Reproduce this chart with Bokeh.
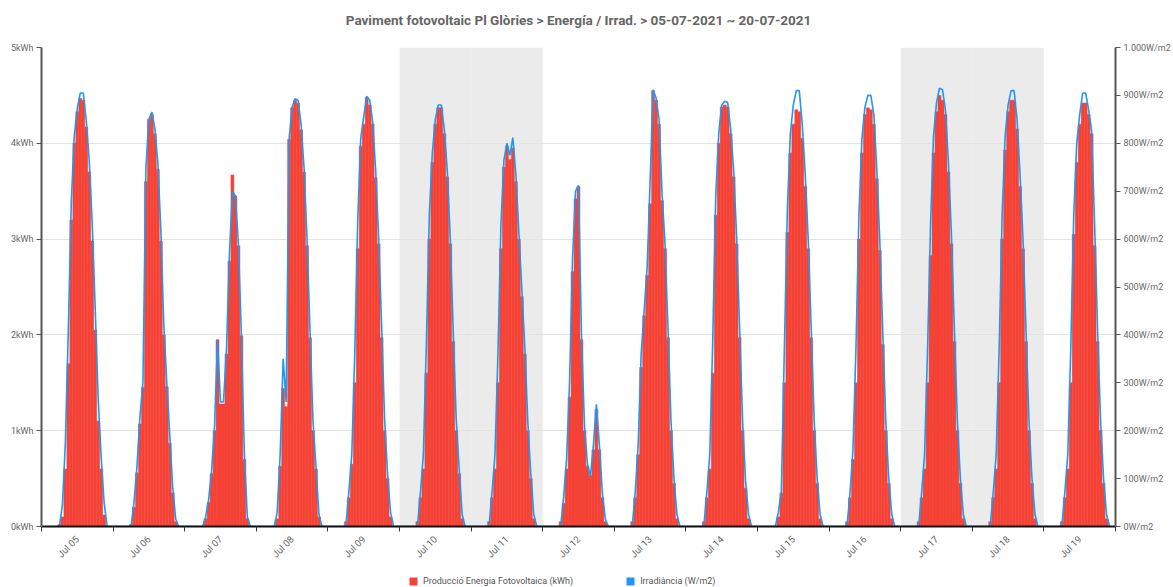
import math
from bokeh.plotting import figure
from bokeh.layouts import column
from bokeh.models import (Range1d, LinearAxis, FixedTicker, BoxAnnotation, Legend,
                          LegendItem, ColumnDataSource, Title)
from bokeh.embed import file_html
from bokeh.resources import INLINE

TITLE = "Paviment fotovoltaic Pl Glòries > Energía / Irrad. > 05-07-2021 ~ 20-07-2021"
DAYS = ["Jul 05", "Jul 06", "Jul 07", "Jul 08", "Jul 09", "Jul 10", "Jul 11", "Jul 12",
        "Jul 13", "Jul 14", "Jul 15", "Jul 16", "Jul 17", "Jul 18", "Jul 19"]
WEEKEND_DAYS = ["Jul 10", "Jul 11", "Jul 17", "Jul 18"]
SERIES_NAMES = ["Producció Energia Fotovoltaica (kWh)", "Irradiància (W/m2)"]

# hourly energy (kWh), hours 06..21 of each day
BAR_HOURS = list(range(6, 22))
ENERGY = {
    "Jul 05": [0.02, 0.10, 0.60, 1.70, 3.20, 4.00, 4.33, 4.47, 4.45, 4.17, 3.70, 2.98, 2.05, 1.10, 0.60, 0.12],
    "Jul 06": [0.02, 0.20, 0.56, 1.07, 1.45, 3.60, 4.25, 4.30, 4.10, 3.73, 2.98, 2.00, 1.46, 0.87, 0.35, 0.05],
    "Jul 07": [0.00, 0.08, 0.25, 0.55, 1.00, 1.95, 1.28, 1.28, 1.80, 2.77, 3.67, 3.45, 2.93, 1.99, 0.70, 0.08],
    "Jul 08": [0.00, 0.08, 0.63, 1.44, 1.25, 4.04, 4.37, 4.45, 4.42, 4.14, 3.70, 2.93, 1.97, 1.00, 0.60, 0.10],
    "Jul 09": [0.05, 0.30, 0.65, 1.50, 2.90, 3.97, 4.20, 4.48, 4.40, 4.20, 3.64, 2.95, 1.97, 1.00, 0.50, 0.10],
    "Jul 10": [0.05, 0.30, 0.60, 1.60, 3.00, 3.80, 4.20, 4.37, 4.37, 4.10, 3.65, 2.95, 1.93, 1.00, 0.55, 0.08],
    "Jul 11": [0.05, 0.30, 0.60, 1.50, 2.90, 3.75, 3.97, 3.83, 3.95, 3.60, 3.00, 2.40, 1.80, 1.00, 0.50, 0.08],
    "Jul 12": [0.05, 0.24, 0.60, 1.35, 2.66, 3.42, 3.55, 1.95, 1.00, 0.63, 0.53, 0.80, 1.22, 0.80, 0.30, 0.05],
    "Jul 13": [0.05, 0.30, 0.75, 1.66, 2.20, 2.62, 3.37, 4.55, 4.45, 4.20, 3.40, 2.90, 1.97, 1.00, 0.45, 0.08],
    "Jul 14": [0.05, 0.30, 0.60, 1.60, 3.25, 4.00, 4.38, 4.40, 4.38, 4.10, 3.65, 2.95, 1.97, 1.00, 0.40, 0.08],
    "Jul 15": [0.00, 0.10, 0.35, 1.50, 3.07, 3.90, 4.20, 4.35, 4.33, 4.05, 3.55, 2.90, 1.97, 1.00, 0.45, 0.08],
    "Jul 16": [0.05, 0.30, 0.70, 1.50, 3.00, 3.90, 4.30, 4.37, 4.35, 4.20, 3.63, 2.88, 1.90, 1.00, 0.45, 0.08],
    "Jul 17": [0.05, 0.30, 0.60, 1.50, 2.83, 3.90, 4.33, 4.50, 4.45, 4.30, 3.70, 2.95, 1.93, 1.00, 0.45, 0.08],
    "Jul 18": [0.05, 0.30, 0.60, 1.50, 3.00, 3.93, 4.33, 4.45, 4.45, 4.15, 3.55, 2.90, 1.93, 1.00, 0.45, 0.08],
    "Jul 19": [0.05, 0.30, 0.60, 1.50, 3.05, 3.80, 4.20, 4.42, 4.42, 4.30, 4.10, 2.93, 1.93, 1.00, 0.45, 0.08],
}

# irradiance (W/m2), hours 06..22 of each day
IRR_HOURS = list(range(6, 23))
IRRADIANCE = {
    "Jul 05": [0, 45, 175, 415, 680, 817, 873, 905, 905, 848, 764, 632, 456, 267, 145, 49, 0],
    "Jul 06": [0, 50, 125, 230, 300, 750, 850, 865, 830, 760, 620, 420, 300, 190, 80, 15, 0],
    "Jul 07": [0, 20, 55, 115, 210, 390, 260, 260, 370, 570, 700, 690, 590, 400, 150, 20, 0],
    "Jul 08": [0, 30, 150, 350, 260, 810, 875, 893, 890, 840, 750, 600, 410, 220, 125, 25, 0],
    "Jul 09": [0, 70, 150, 360, 640, 810, 855, 898, 890, 845, 745, 605, 420, 225, 110, 30, 0],
    "Jul 10": [0, 70, 150, 380, 650, 780, 850, 880, 880, 830, 745, 605, 410, 225, 120, 25, 0],
    "Jul 11": [0, 70, 150, 360, 630, 765, 800, 775, 812, 735, 615, 495, 375, 220, 110, 25, 0],
    "Jul 12": [0, 60, 140, 300, 560, 700, 712, 400, 210, 130, 105, 170, 255, 170, 70, 15, 0],
    "Jul 13": [0, 70, 170, 360, 450, 540, 720, 912, 895, 850, 695, 590, 415, 220, 100, 25, 0],
    "Jul 14": [0, 70, 150, 390, 690, 820, 880, 888, 885, 830, 745, 605, 415, 220, 95, 25, 0],
    "Jul 15": [0, 30, 75, 370, 660, 820, 880, 910, 910, 840, 735, 600, 415, 220, 100, 25, 0],
    "Jul 16": [0, 70, 160, 370, 650, 810, 875, 900, 900, 860, 745, 595, 405, 220, 100, 25, 0],
    "Jul 17": [0, 70, 150, 370, 630, 815, 885, 915, 912, 870, 760, 610, 410, 220, 100, 25, 0],
    "Jul 18": [0, 70, 150, 370, 650, 815, 880, 910, 910, 850, 735, 600, 410, 220, 100, 25, 0],
    "Jul 19": [0, 70, 150, 370, 650, 800, 860, 905, 905, 870, 825, 630, 410, 220, 100, 25, 0],
}

KWH_TICKS = [0, 1, 2, 3, 4, 5]
KWH_LABELS = ["0kWh", "1kWh", "2kWh", "3kWh", "4kWh", "5kWh"]
IRR_TICKS = [0, 100, 200, 300, 400, 500, 600, 700, 800, 900, 1000]
IRR_LABELS = ["0W/m2", "100W/m2", "200W/m2", "300W/m2", "400W/m2", "500W/m2",
              "600W/m2", "700W/m2", "800W/m2", "900W/m2", "1.000W/m2"]

RED = "#f44336"
BLUE = "#2196f3"
TXT = "#666666"

bx, btop = [], []
lx, ly = [], []
for d, day in enumerate(DAYS):
    for h, v in zip(BAR_HOURS, ENERGY[day]):
        bx.append(d * 24 + h)
        btop.append(v)
    for h, v in zip(IRR_HOURS, IRRADIANCE[day]):
        lx.append(d * 24 + h)
        ly.append(v)

n_hours = 24 * len(DAYS)
p = figure(width=1173, height=566, x_range=Range1d(0, n_hours),
           y_range=Range1d(0, 5), output_backend="svg", toolbar_location=None,
           min_border_left=41, min_border_top=47, min_border_bottom=35, min_border_right=57)
p.outline_line_color = None

# spacer between frame and title, then the title itself
p.add_layout(Title(text=" ", text_font_size="2px", standoff=9), "above")
p.add_layout(Title(text=TITLE, align="center", text_font="Roboto", text_font_size="13.5px",
                   text_font_style="bold", text_color=TXT, standoff=14), "above")

p.extra_y_ranges = {"irr": Range1d(0, 1000)}

for day in WEEKEND_DAYS:
    d = DAYS.index(day)
    p.add_layout(BoxAnnotation(left=d * 24, right=(d + 1) * 24, fill_color="#ebebeb",
                               fill_alpha=1.0, line_color=None, level="image"))

src_b = ColumnDataSource(dict(x=bx, top=btop))
p.vbar(x="x", top="top", width=1.0, source=src_b, fill_color=RED,
       line_color=RED, line_width=0.5)
src_l = ColumnDataSource(dict(x=lx, y=ly))
p.line(x="x", y="y", source=src_l, y_range_name="irr", line_color=BLUE, line_width=1.6)

p.xaxis.ticker = FixedTicker(ticks=[d * 24 + 12 for d in range(len(DAYS))],
                             minor_ticks=[d * 24 for d in range(len(DAYS) + 1)])
p.xaxis.major_label_overrides = {d * 24 + 12: lab for d, lab in enumerate(DAYS)}
p.xaxis.major_label_orientation = math.pi / 4
p.xaxis.major_tick_out = 0
p.xaxis.major_tick_in = 0
p.xaxis.minor_tick_out = 5
p.xaxis.minor_tick_in = 0
p.xaxis.minor_tick_line_color = "#333333"
p.xaxis.axis_line_color = "#111111"
p.xaxis.axis_line_width = 2
p.xaxis.major_label_text_font = "Roboto"
p.xaxis.major_label_text_font_size = "9.5px"
p.xaxis.major_label_text_color = TXT
p.xaxis.major_label_standoff = 6

p.yaxis.ticker = FixedTicker(ticks=KWH_TICKS)
p.yaxis.major_label_overrides = dict(zip(KWH_TICKS, KWH_LABELS))
p.yaxis.minor_tick_line_color = None
p.yaxis.major_tick_out = 5
p.yaxis.major_tick_in = 0
p.yaxis.major_tick_line_color = "#555555"
p.yaxis.axis_line_color = "#555555"
p.yaxis.axis_line_width = 2
p.yaxis.major_label_text_font = "Roboto"
p.yaxis.major_label_text_font_size = "9px"
p.yaxis.major_label_text_color = TXT
p.yaxis.major_label_standoff = 3

rax = LinearAxis(y_range_name="irr", ticker=FixedTicker(ticks=IRR_TICKS),
                 major_label_overrides=dict(zip(IRR_TICKS, IRR_LABELS)))
rax.minor_tick_line_color = None
rax.major_tick_out = 5
rax.major_tick_in = 0
rax.major_tick_line_color = "#555555"
rax.axis_line_color = "#555555"
rax.axis_line_width = 2
rax.major_label_text_font = "Roboto"
rax.major_label_text_font_size = "9px"
rax.major_label_text_color = TXT
rax.major_label_standoff = 3
p.add_layout(rax, "right")

p.xgrid.grid_line_color = None
p.ygrid.grid_line_color = "#e3e3e3"
p.ygrid.grid_line_width = 1

# legend strip below the chart
lg = figure(width=1173, height=21, x_range=Range1d(0, 1), y_range=Range1d(0, 1),
            output_backend="svg", toolbar_location=None, x_axis_type=None, y_axis_type=None,
            min_border=0)
lg.outline_line_color = None
lg.grid.grid_line_color = None
proxy_red = lg.vbar(x=[0.5], top=[0], bottom=[0], width=0.01, fill_color=RED, line_color=None)
proxy_blue = lg.vbar(x=[0.5], top=[0], bottom=[0], width=0.01, fill_color=BLUE, line_color=None)
legend = Legend(items=[LegendItem(label=SERIES_NAMES[0], renderers=[proxy_red]),
                       LegendItem(label=SERIES_NAMES[1], renderers=[proxy_blue])],
                orientation="horizontal", location=(367, 1))
legend.glyph_width = 10
legend.glyph_height = 10
legend.label_height = 10
legend.label_standoff = 5
legend.spacing = 52
legend.padding = 0
legend.margin = 0
legend.border_line_color = None
legend.background_fill_alpha = 0
legend.label_text_font = "Roboto"
legend.label_text_font_size = "9px"
legend.label_text_color = "#555555"
lg.add_layout(legend, "center")

open("out.html", "w").write(file_html(column(p, lg, spacing=0), INLINE))
